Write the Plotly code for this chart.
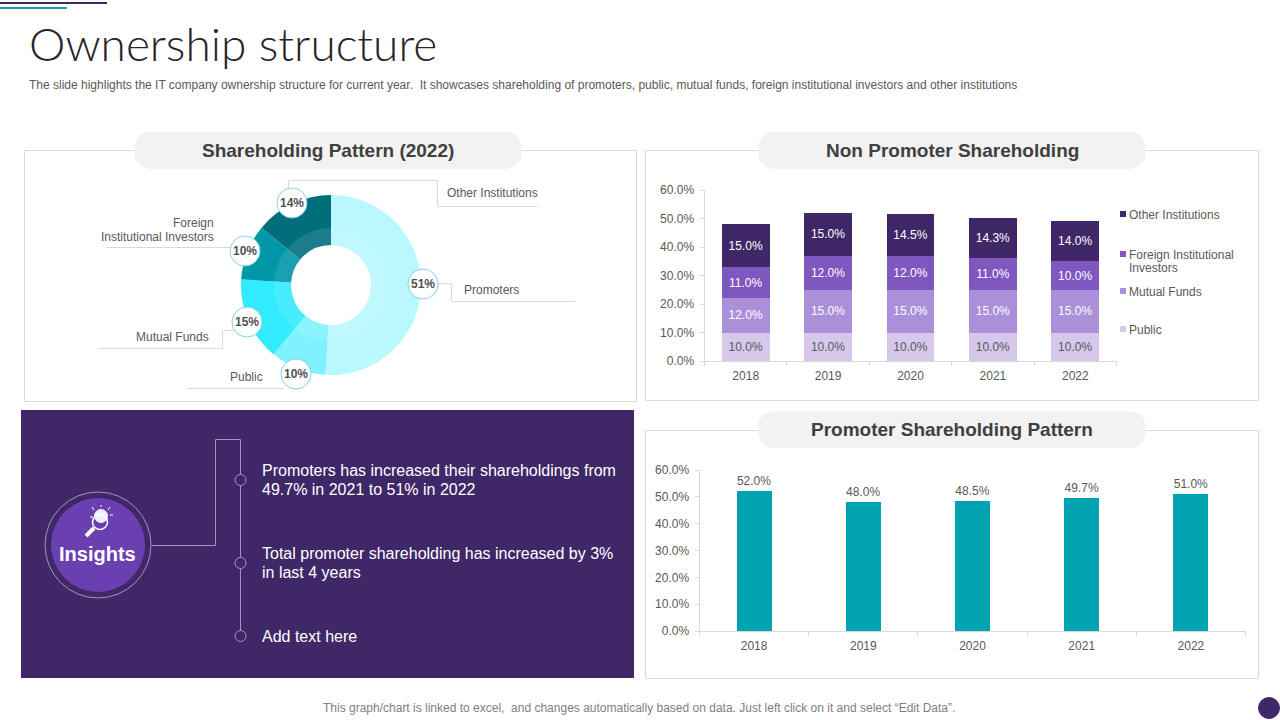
import plotly.graph_objects as go

# Values
pie_labels = ['Promoters', 'Public', 'Mutual Funds', 'Foreign Institutional Investors', 'Other Institutions']
pie_values = [51, 10, 15, 10, 14]
pie_colors = ['#B9F8FF', '#7FF2FF', '#33EBFF', '#0097A7', '#006F7B']

years = ['2018', '2019', '2020', '2021', '2022']
public = [10.0, 10.0, 10.0, 10.0, 10.0]
mutual_funds = [12.0, 15.0, 15.0, 15.0, 15.0]
foreign_inst = [11.0, 12.0, 12.0, 11.0, 10.0]
other_inst = [15.0, 15.0, 14.5, 14.3, 14.0]
promoters = [52.0, 48.0, 48.5, 49.7, 51.0]

PURPLE = '#3F2768'
TEAL = '#00A3AF'
GREY = '#595959'
LINE = '#D9D9D9'
FONT = 'Liberation Sans'
W, H = 1280, 720


def X(px):
    return px / W


def Y(py):
    return 1 - py / H


def rect(x0, y0, x1, y1, fill=None, line=LINE, width=1):
    return dict(type='rect', xref='paper', yref='paper', x0=X(x0), x1=X(x1), y0=Y(y0), y1=Y(y1),
                fillcolor=fill or 'rgba(0,0,0,0)', line=dict(color=line, width=width))


def circle(cx, cy, r, fill=None, line=LINE, width=1):
    return dict(type='circle', xref='paper', yref='paper', x0=X(cx - r), x1=X(cx + r), y0=Y(cy - r), y1=Y(cy + r),
                fillcolor=fill or 'rgba(0,0,0,0)', line=dict(color=line, width=width))


def polyline(points, color=LINE, width=1):
    path = 'M' + ' L'.join(f'{X(a):.5f},{Y(b):.5f}' for a, b in points)
    return dict(type='path', xref='paper', yref='paper', path=path, line=dict(color=color, width=width))


def pill(x0, y0, x1, y1, fill='#F2F2F2'):
    # rounded ends drawn with quadratic curves, good enough at this size
    r = (y1 - y0) / 2
    ym = (y0 + y1) / 2
    p = (f'M{X(x0 + r)},{Y(y0)} L{X(x1 - r)},{Y(y0)} '
         f'Q{X(x1)},{Y(y0)} {X(x1)},{Y(ym)} Q{X(x1)},{Y(y1)} {X(x1 - r)},{Y(y1)} '
         f'L{X(x0 + r)},{Y(y1)} Q{X(x0)},{Y(y1)} {X(x0)},{Y(ym)} Q{X(x0)},{Y(y0)} {X(x0 + r)},{Y(y0)} Z')
    return dict(type='path', xref='paper', yref='paper', path=p, fillcolor=fill, line=dict(width=0))


def text(x, y, s, size=12, color=GREY, anchor='left', bold=False, family=FONT, weight=None):
    font = dict(family=family, size=size, color=color)
    if weight:
        font['weight'] = weight
    elif bold:
        font['weight'] = 'bold'
    return dict(xref='paper', yref='paper', x=X(x), y=Y(y), text=s, showarrow=False, borderpad=0, borderwidth=0,
                xanchor=anchor, yanchor='middle', align=anchor, font=font)


fig = go.Figure()

# Donut, outer ring plus the lighter inner band
fig.add_trace(go.Pie(labels=pie_labels, values=pie_values, sort=False, direction='clockwise', rotation=0,
                     hole=40 / 90, marker=dict(colors=pie_colors, line=dict(width=0)), textinfo='none',
                     domain=dict(x=[X(241), X(421)], y=[Y(375), Y(195)]), showlegend=False))
fig.add_trace(go.Pie(labels=pie_labels, values=pie_values, sort=False, direction='clockwise', rotation=0,
                     hole=40 / 57, marker=dict(colors=['rgba(255,255,255,0.1)'] * 5, line=dict(width=0)),
                     textinfo='none', domain=dict(x=[X(274), X(388)], y=[Y(342), Y(228)]), showlegend=False))

# Stacked bars
stack = [('Public', public, '#D5C8EA', GREY), ('Mutual Funds', mutual_funds, '#AB8FD9', 'white'),
         ('Foreign Institutional Investors', foreign_inst, '#7E57BF', 'white'),
         ('Other Institutions', other_inst, PURPLE, 'white')]
for name, vals, col, tcol in stack:
    fig.add_trace(go.Bar(x=years, y=vals, name=name, marker=dict(color=col, line=dict(width=0)),
                         text=[f'{v:.1f}%' for v in vals], textposition='inside', insidetextanchor='middle',
                         textangle=0, insidetextfont=dict(family=FONT, size=12, color=tcol),
                         xaxis='x', yaxis='y', showlegend=False))

# Promoter bars
fig.add_trace(go.Bar(x=years, y=promoters, marker=dict(color=TEAL, line=dict(width=0)),
                     text=[f'{v:.1f}%' for v in promoters], textposition='outside', textangle=0,
                     outsidetextfont=dict(family=FONT, size=12, color=GREY), cliponaxis=False,
                     xaxis='x2', yaxis='y2', width=0.32, showlegend=False))

shapes = [
    polyline([(0, 3), (107, 3)], PURPLE, 2),
    polyline([(0, 8), (67, 8)], '#1E9CA8', 2),
    rect(24.5, 150.5, 636.5, 401.5), rect(645.5, 150.5, 1258.5, 400.5), rect(645.5, 430.5, 1258.5, 678.5),
    pill(134, 132, 522, 169), pill(758, 132, 1146, 169), pill(758, 411, 1146, 448),
    rect(21, 410, 634, 678, fill=PURPLE, line=PURPLE, width=0),
    # insights panel
    circle(98, 545, 53, line='#A593C6'),
    circle(98, 545, 46.5, fill='#6A3FB0', line='#6A3FB0'),
    polyline([(152, 545.5), (215.5, 545.5), (215.5, 439.5), (240.5, 439.5), (240.5, 636)], '#A593C6', 1),
    circle(240.5, 480, 5.5, fill=PURPLE, line='#A593C6'),
    circle(240.5, 563, 5.5, fill=PURPLE, line='#A593C6'),
    circle(240.5, 636, 5.5, fill=PURPLE, line='#A593C6'),
    # bulb and magnifier icon
    circle(101, 516, 6.5, fill='#F3EEFA', line='#F3EEFA'),
    circle(100, 522, 7.5, line='white', width=1.5),
    polyline([(94, 528), (86, 536)], 'white', 4),
    polyline([(101, 505), (101, 507)], 'white', 1),
    polyline([(92, 507), (94, 510)], 'white', 1),
    polyline([(110, 507), (108, 510)], 'white', 1),
    polyline([(113, 515), (110, 515)], 'white', 1),
    polyline([(90, 517), (93, 517)], 'white', 1),
    # donut callout lines
    polyline([(288.5, 189), (288.5, 180.5), (437.5, 180.5), (437.5, 206.5), (537, 206.5)]),
    polyline([(106, 247.5), (232, 247.5)]),
    polyline([(98, 348.5), (222.5, 348.5), (222.5, 330.5), (235, 330.5)]),
    polyline([(188, 388.5), (284, 388.5)]),
    polyline([(436, 283.5), (451.5, 283.5), (451.5, 301.5), (575, 301.5)]),
    # footer dot
    circle(1269, 708, 10.5, fill=PURPLE, line=PURPLE),
]

callouts = [(423, 284), (296, 374), (247, 322), (245, 251), (292, 203)]
annotations = [
    text(29, 43, 'Ownership structure', size=46, color='#262626', family='Lato', weight=300),
    text(29, 85, 'The slide highlights the IT company ownership structure for current year.  It showcases '
                 'shareholding of promoters, public, mutual funds, foreign institutional investors and other institutions',
         size=12),
    text(328, 150, 'Shareholding Pattern (2022)', size=19, color='#404040', anchor='center', bold=True),
    text(952, 150, 'Non Promoter Shareholding', size=19, color='#404040', anchor='center', bold=True),
    text(952, 429, 'Promoter Shareholding Pattern', size=19, color='#404040', anchor='center', bold=True),
    text(447, 193, pie_labels[4]),
    text(214, 223, 'Foreign', anchor='right'),
    text(214, 237, 'Institutional Investors', anchor='right'),
    text(209, 337, pie_labels[2], anchor='right'),
    text(263, 377, pie_labels[1], anchor='right'),
    text(464, 290, pie_labels[0]),
    text(97, 554, 'Insights', size=20, color='white', anchor='center', bold=True),
    text(262, 470, 'Promoters has increased their shareholdings from', size=16, color='white'),
    text(262, 489, '49.7% in 2021 to 51% in 2022', size=16, color='white'),
    text(262, 553, 'Total promoter shareholding has increased by 3%', size=16, color='white'),
    text(262, 572, 'in last 4 years', size=16, color='white'),
    text(262, 636, 'Add text here', size=16, color='white'),
    text(639, 708, 'This graph/chart is linked to excel,  and changes automatically based on data. Just left click on it '
                   'and select \u201cEdit Data\u201d.', size=12, color='#7F7F7F', anchor='center'),
]
for (cx, cy), v in zip(callouts, pie_values):
    shapes.append(circle(cx, cy, 15, fill='white', line='#7FD6DE'))
    annotations.append(text(cx, cy, f'{v}%', color='#505050', anchor='center', bold=True))

# Legend of the stacked chart, the swatches are much smaller than plotly's own
legend_rows = [(214, '#3F2768', ['Other Institutions']),
               (254, '#7E57BF', ['Foreign Institutional', 'Investors']),
               (291, '#AB8FD9', ['Mutual Funds']),
               (329, '#D5C8EA', ['Public'])]
for y, col, lines in legend_rows:
    shapes.append(rect(1120, y - 3, 1126, y + 3, fill=col, line=col, width=0))
    for i, s in enumerate(lines):
        annotations.append(text(1129, y + 0.7 + i * 13, s))

axis_font = dict(family=FONT, size=12, color=GREY)
yaxis_style = dict(range=[0, 60], dtick=10, ticksuffix='%', tickformat='.1f', showgrid=False, zeroline=False,
                   showline=True, linecolor=LINE, ticks='outside', ticklen=4, tickcolor=LINE, tickfont=axis_font,
                   fixedrange=True, automargin=False, ticklabelstandoff=3)
xaxis_style = dict(type='category', showgrid=False, zeroline=False, showline=True, linecolor=LINE, ticks='outside',
                   ticklen=4, tickcolor=LINE, tickson='boundaries', tickfont=axis_font, fixedrange=True,
                   automargin=False, ticklabelstandoff=4)

fig.update_layout(
    width=W, height=H, margin=dict(l=0, r=0, t=0, b=0, pad=0),
    paper_bgcolor='white', plot_bgcolor='rgba(0,0,0,0)',
    barmode='stack', bargap=0.42,
    xaxis=dict(domain=[X(704.5), X(1116.5)], anchor='y', **xaxis_style),
    yaxis=dict(domain=[Y(361), Y(190)], anchor='x', **yaxis_style),
    xaxis2=dict(domain=[X(699.5), X(1245.5)], anchor='y2', **xaxis_style),
    yaxis2=dict(domain=[Y(631), Y(470)], anchor='x2', **yaxis_style),
    shapes=shapes, annotations=annotations,
)

fig.write_html("out.html", config=dict(displayModeBar=False), post_script="document.body.style.margin='0';")
